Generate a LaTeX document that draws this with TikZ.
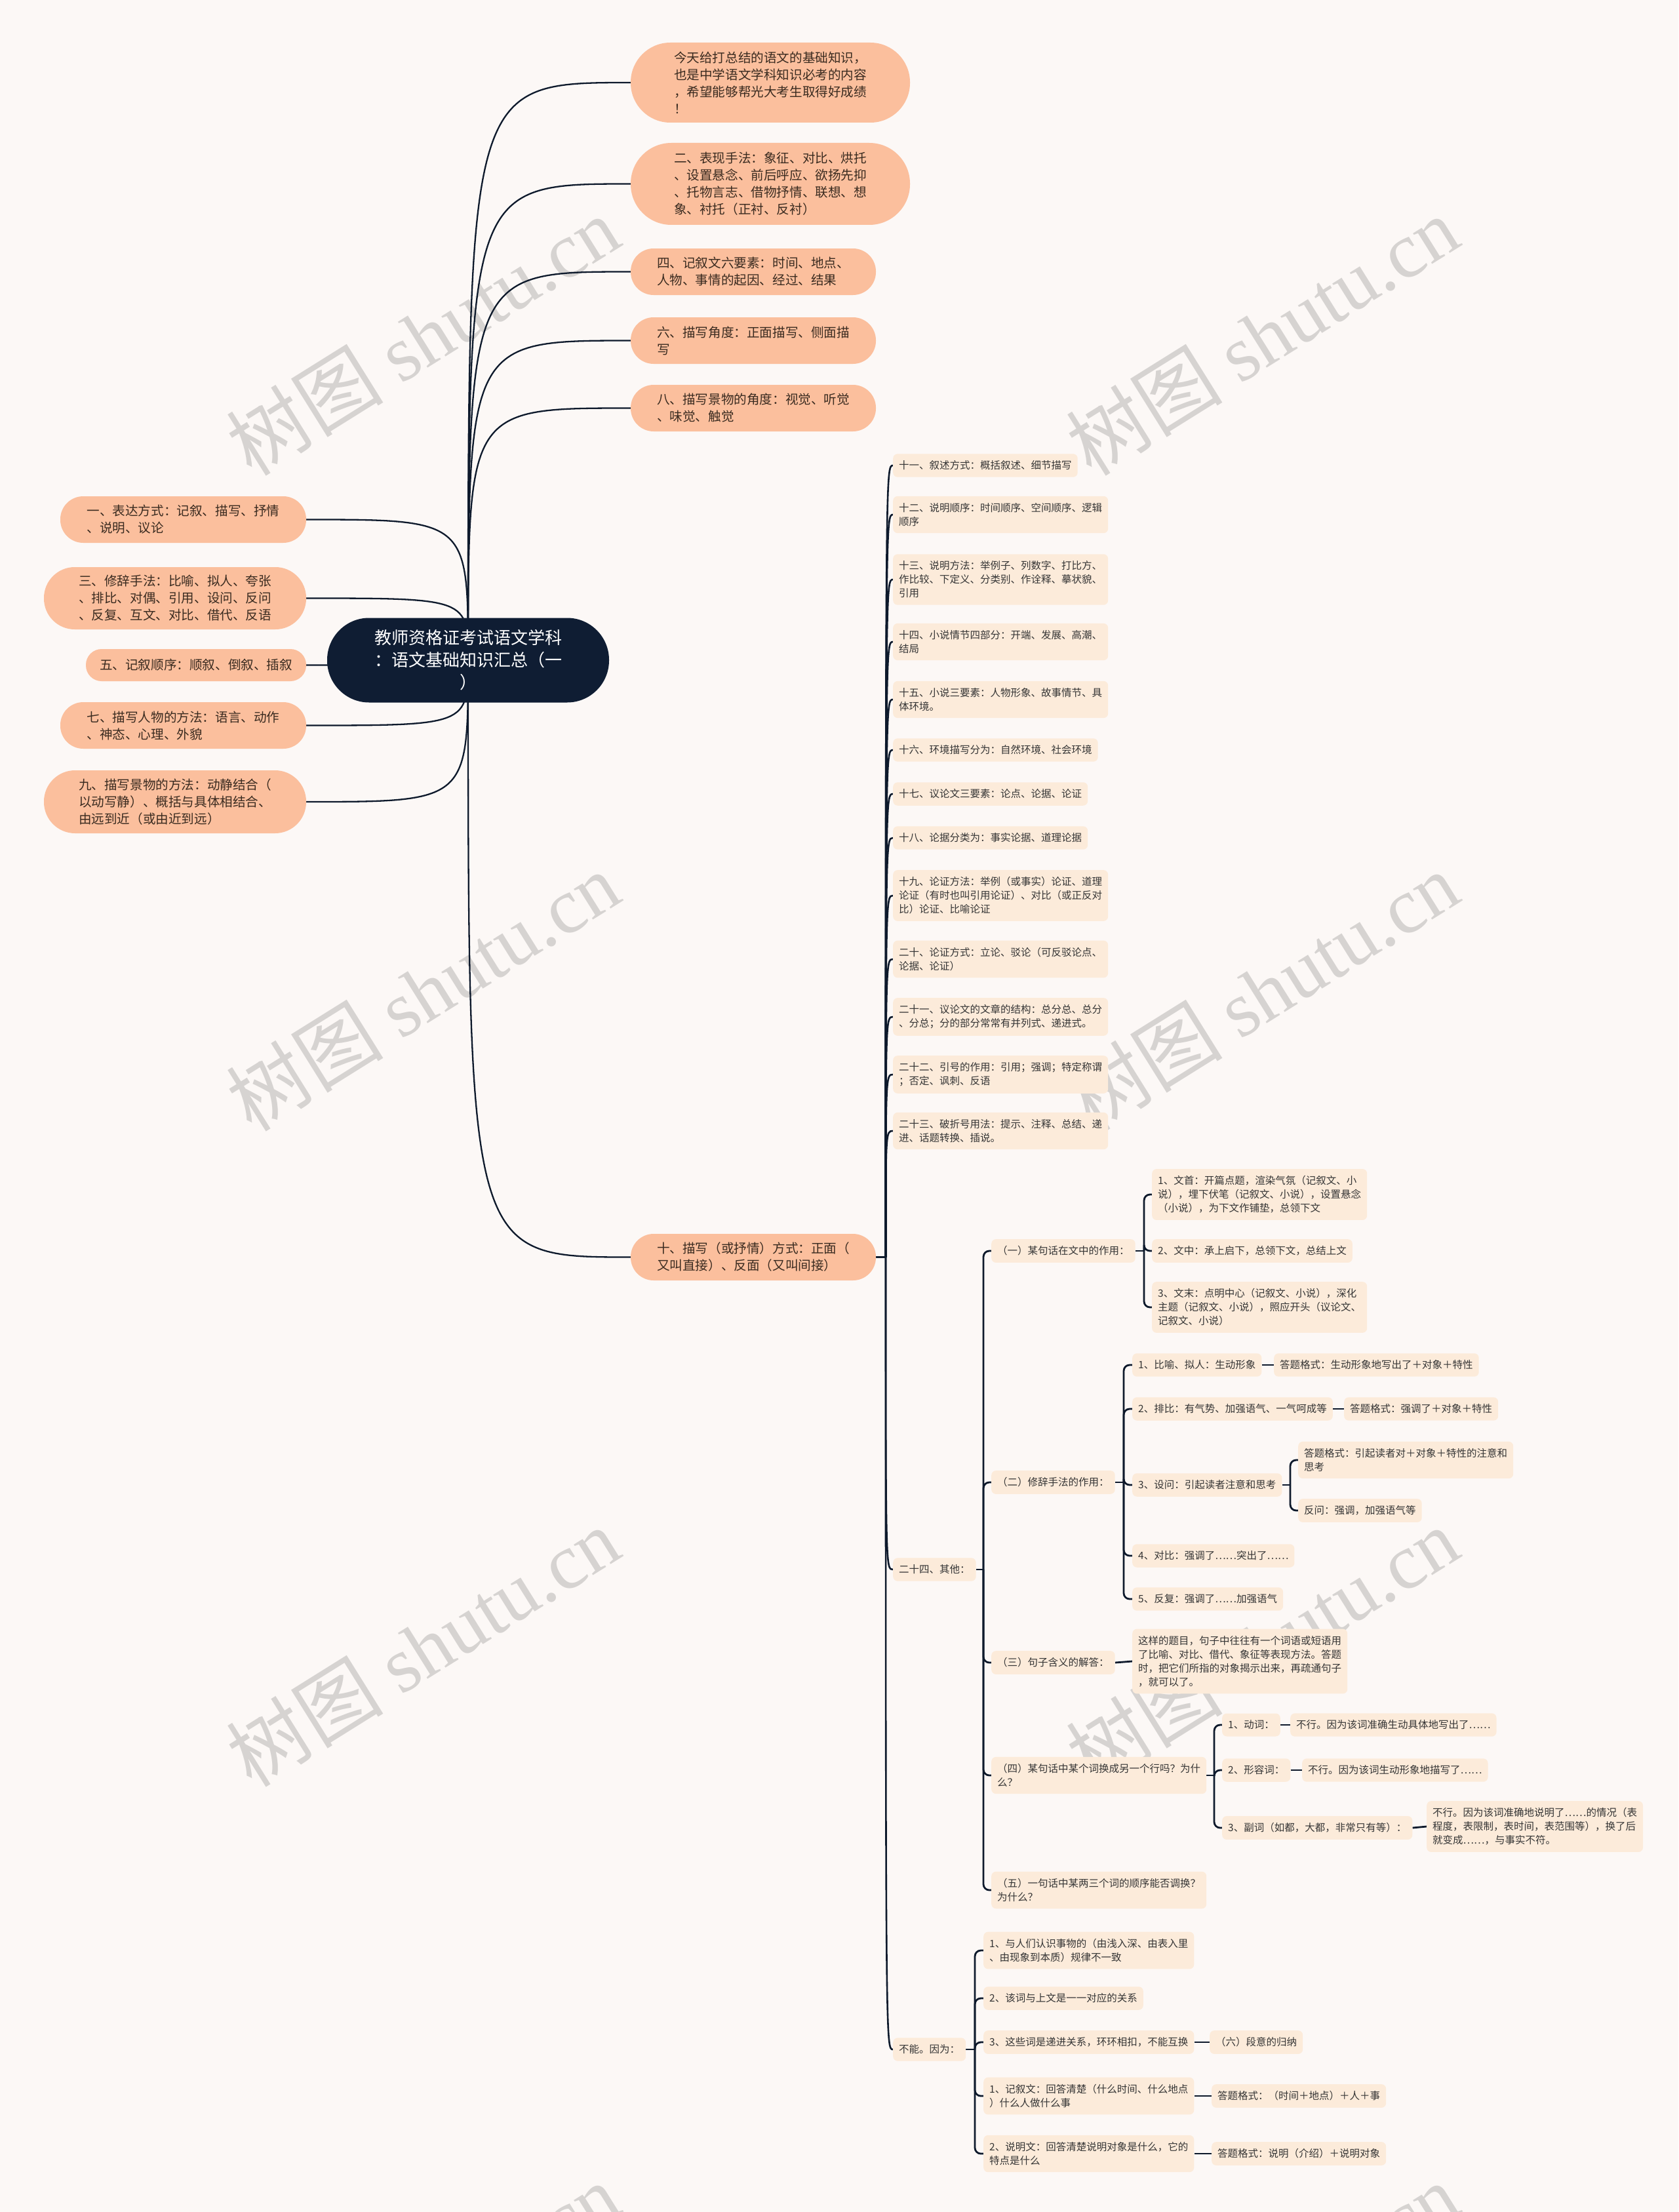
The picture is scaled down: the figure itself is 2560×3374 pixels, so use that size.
\documentclass[tikz,border=0pt]{standalone}
\usepackage{fontspec}
\setmainfont{Noto Sans CJK SC}
\newfontfamily\wmlatin{Liberation Serif}
\usetikzlibrary{calc}
\definecolor{bgc}{HTML}{FCF8F6}
\definecolor{navy}{HTML}{0F1D33}
\definecolor{salmon}{HTML}{FBBF9D}
\definecolor{peach}{HTML}{FCEBDA}
\definecolor{linec}{HTML}{0E1A2C}
\definecolor{txtA}{HTML}{3A2B20}
\definecolor{txtB}{HTML}{353535}
\definecolor{wmc}{HTML}{D6D3D1}
\pgfdeclarelayer{wm}
\pgfdeclarelayer{bg}
\pgfsetlayers{wm,bg,main}
\tikzset{
  rootnode/.style={fill=navy, text=white, rounded corners=64, minimum width=430, minimum height=129, align=center, font=\fontsize{26}{34}\selectfont, inner sep=0pt},
  pill/.style n args={3}{fill=salmon, text=txtA, align=left, font=\fontsize{19.6}{26}\selectfont, inner sep=0pt, minimum width=#1, minimum height=#2, rounded corners=#3},
  sn/.style={fill=peach, text=txtB, align=left, anchor=west, font=\fontsize{15.5}{21}\selectfont, rounded corners=7, inner xsep=9, inner ysep=10.5},
  rootline/.style={draw=linec, line width=2.3},
  l2/.style={draw=linec, line width=2.6},
  l3/.style={draw=linec, line width=2.8},
  wmark/.style={text=wmc, rotate=32, font=\fontsize{120}{120}\selectfont, inner sep=0pt},
}
\begin{document}
\begin{tikzpicture}[x=1pt,y=-1pt]
\useasboundingbox (0,0) rectangle (2560,3374);
% ---------- root ----------
\node[rootnode] (root) at (714,1007) {教师资格证考试语文学科\\：语文基础知识汇总（一\\）};
% ---------- left pills ----------
\node[pill={375}{71}{35}] (p1) at (279.5,792.5) {一、表达方式：记叙、描写、抒情\\、说明、议论};
\node[pill={400}{95}{47}] (p3) at (267,912.5) {三、修辞手法：比喻、拟人、夸张\\、排比、对偶、引用、设问、反问\\、反复、互文、对比、借代、反语};
\node[pill={336}{49}{24}] (p5) at (299,1014.5) {五、记叙顺序：顺叙、倒叙、插叙};
\node[pill={375}{71}{35}] (p7) at (279.5,1106.5) {七、描写人物的方法：语言、动作\\、神态、心理、外貌};
\node[pill={400}{96}{47.5}] (p9) at (267,1223) {九、描写景物的方法：动静结合（\\以动写静）、概括与具体相结合、\\由远到近（或由近到远）};
% ---------- right pills ----------
\node[pill={426}{122}{60.5}] (p0) at (1175,126) {今天给打总结的语文的基础知识，\\也是中学语文学科知识必考的内容\\，希望能够帮光大考生取得好成绩\\！};
\node[pill={426}{125}{62}] (p2) at (1175,280.5) {二、表现手法：象征、对比、烘托\\、设置悬念、前后呼应、欲扬先抑\\、托物言志、借物抒情、联想、想\\象、衬托（正衬、反衬）};
\node[pill={374}{71}{35}] (p4) at (1149,414.5) {四、记叙文六要素：时间、地点、\\人物、事情的起因、经过、结果};
\node[pill={374}{71}{35}] (p6) at (1149,519.5) {六、描写角度：正面描写、侧面描\\写};
\node[pill={374}{71}{35}] (p8) at (1149,622.5) {八、描写景物的角度：视觉、听觉\\、味觉、触觉};
\node[pill={374}{71}{35}] (p10) at (1149,1917.5) {十、描写（或抒情）方式：正面（\\又叫直接）、反面（又叫间接）};
% ---------- level 2 under 十 ----------
\node[sn] (s11) at (1362,710) {十一、叙述方式：概括叙述、细节描写};
\node[sn] (s12) at (1362,785) {十二、说明顺序：时间顺序、空间顺序、逻辑\\顺序};
\node[sn] (s13) at (1362,884) {十三、说明方法：举例子、列数字、打比方、\\作比较、下定义、分类别、作诠释、摹状貌、\\引用};
\node[sn] (s14) at (1362,979) {十四、小说情节四部分：开端、发展、高潮、\\结局};
\node[sn] (s15) at (1362,1067) {十五、小说三要素：人物形象、故事情节、具\\体环境。};
\node[sn] (s16) at (1362,1144) {十六、环境描写分为：自然环境、社会环境};
\node[sn] (s17) at (1362,1211) {十七、议论文三要素：论点、论据、论证};
\node[sn] (s18) at (1362,1278) {十八、论据分类为：事实论据、道理论据};
\node[sn] (s19) at (1362,1366) {十九、论证方法：举例（或事实）论证、道理\\论证（有时也叫引用论证）、对比（或正反对\\比）论证、比喻论证};
\node[sn] (s20) at (1362,1463) {二十、论证方式：立论、驳论（可反驳论点、\\论据、论证）};
\node[sn] (s21) at (1362,1551) {二十一、议论文的文章的结构：总分总、总分\\、分总；分的部分常常有并列式、递进式。};
\node[sn] (s22) at (1362,1639) {二十二、引号的作用：引用；强调；特定称谓\\；否定、讽刺、反语};
\node[sn] (s23) at (1362,1725) {二十三、破折号用法：提示、注释、总结、递\\进、话题转换、插说。};
\node[sn] (s24) at (1362,2394) {二十四、其他：};
\node[sn] (sno) at (1362,3126) {不能。因为：};
% ---------- 二十四 children ----------
\node[sn] (c1) at (1512,1908) {（一）某句话在文中的作用：};
\node[sn] (c2) at (1512,2261) {（二）修辞手法的作用：};
\node[sn] (c3) at (1512,2536) {（三）句子含义的解答：};
\node[sn] (c4) at (1512,2708) {（四）某句话中某个词换成另一个行吗？为什\\么？};
\node[sn] (c5) at (1512,2883) {（五）一句话中某两三个词的顺序能否调换？\\为什么？};
% (一)
\node[sn] (c1a) at (1757,1822) {1、文首：开篇点题，渲染气氛（记叙文、小\\说），埋下伏笔（记叙文、小说），设置悬念\\（小说），为下文作铺垫，总领下文};
\node[sn] (c1b) at (1757,1908) {2、文中：承上启下，总领下文，总结上文};
\node[sn] (c1c) at (1757,1994) {3、文末：点明中心（记叙文、小说），深化\\主题（记叙文、小说），照应开头（议论文、\\记叙文、小说）};
% (二)
\node[sn] (c2a) at (1727,2082) {1、比喻、拟人：生动形象};
\node[sn] (c2aa) at (1943,2082) {答题格式：生动形象地写出了＋对象＋特性};
\node[sn] (c2b) at (1727,2149) {2、排比：有气势、加强语气、一气呵成等};
\node[sn] (c2bb) at (2050,2149) {答题格式：强调了＋对象＋特性};
\node[sn] (c2c) at (1727,2265) {3、设问：引起读者注意和思考};
\node[sn] (c2ca) at (1980,2227) {答题格式：引起读者对＋对象＋特性的注意和\\思考};
\node[sn] (c2cb) at (1980,2304) {反问：强调，加强语气等};
\node[sn] (c2d) at (1727,2373) {4、对比：强调了……突出了……};
\node[sn] (c2e) at (1727,2439) {5、反复：强调了……加强语气};
% (三)
\node[sn] (c3a) at (1727,2534) {这样的题目，句子中往往有一个词语或短语用\\了比喻、对比、借代、象征等表现方法。答题\\时，把它们所指的对象揭示出来，再疏通句子\\，就可以了。};
% (四)
\node[sn] (c4a) at (1864,2631) {1、动词：};
\node[sn] (c4aa) at (1968,2631) {不行。因为该词准确生动具体地写出了……};
\node[sn] (c4b) at (1864,2700) {2、形容词：};
\node[sn] (c4bb) at (1986,2700) {不行。因为该词生动形象地描写了……};
\node[sn] (c4c) at (1864,2788) {3、副词（如都，大都，非常只有等）：};
\node[sn] (c4cc) at (2176,2786) {不行。因为该词准确地说明了……的情况（表\\程度，表限制，表时间，表范围等），换了后\\就变成……，与事实不符。};
% 不能
\node[sn] (n1) at (1500,2975) {1、与人们认识事物的（由浅入深、由表入里\\、由现象到本质）规律不一致};
\node[sn] (n2) at (1500,3048) {2、该词与上文是一一对应的关系};
\node[sn] (n3) at (1500,3115) {3、这些词是递进关系，环环相扣，不能互换};
\node[sn] (n3a) at (1845,3115) {（六）段意的归纳};
\node[sn] (n4) at (1500,3197) {1、记叙文：回答清楚（什么时间、什么地点\\）什么人做什么事};
\node[sn] (n4a) at (1848,3197) {答题格式：（时间＋地点）＋人＋事};
\node[sn] (n5) at (1500,3285) {2、说明文：回答清楚说明对象是什么，它的\\特点是什么};
\node[sn] (n5a) at (1848,3285) {答题格式：说明（介绍）＋说明对象};
% ---------- coordinates ----------
\coordinate (t10) at (1351,1917.5);
\coordinate (b24) at (1500,2394);
\coordinate (bc1) at (1745,1908);
\coordinate (bc2) at (1714,2261);
\coordinate (bc2c) at (1968,2265);
\coordinate (bc4) at (1852,2708);
\coordinate (bno) at (1487,3126);
% ---------- connectors ----------
\begin{pgfonlayer}{bg}
\foreach \n in {p0,p2,p4,p6,p8,p10}
  \draw[rootline] (root.center) .. controls (root.center |- \n.west) and (root.center |- \n.west) .. (\n.west);
\foreach \n in {p1,p3,p5,p7,p9}
  \draw[rootline] (root.center) .. controls (root.center |- \n.east) and (root.center |- \n.east) .. (\n.east);
\draw[l2] (p10.east) -- (t10);
\foreach \n in {s11,s12,s13,s14,s15,s16,s17,s18,s19,s20,s21,s22,s23,s24,sno}
  \draw[l2] (t10) .. controls (t10 |- \n.west) .. (\n.west);
\draw[l3] (s24.east) -- (b24);
\foreach \n in {c1,c2,c3,c4,c5}
  \draw[l3, rounded corners=9] (b24) |- (\n.west);
\draw[l3] (c1.east) -- (bc1);
\foreach \n in {c1a,c1b,c1c}
  \draw[l3, rounded corners=9] (bc1) |- (\n.west);
\draw[l3] (c2.east) -- (bc2);
\foreach \n in {c2a,c2b,c2c,c2d,c2e}
  \draw[l3, rounded corners=9] (bc2) |- (\n.west);
\draw[l3] (c2c.east) -- (bc2c);
\foreach \n in {c2ca,c2cb}
  \draw[l3, rounded corners=9] (bc2c) |- (\n.west);
\draw[l3] (c2a.east) -- (c2aa.west);
\draw[l3] (c2b.east) -- (c2bb.west);
\draw[l3] (c3.east) -- (c3a.west);
\draw[l3] (c4.east) -- (bc4);
\foreach \n in {c4a,c4b,c4c}
  \draw[l3, rounded corners=9] (bc4) |- (\n.west);
\draw[l3] (c4a.east) -- (c4aa.west);
\draw[l3] (c4b.east) -- (c4bb.west);
\draw[l3] (c4c.east) -- (c4cc.west);
\draw[l3] (sno.east) -- (bno);
\foreach \n in {n1,n2,n3,n4,n5}
  \draw[l3, rounded corners=9] (bno) |- (\n.west);
\draw[l3] (n3.east) -- (n3a.west);
\draw[l3] (n4.east) -- (n4a.west);
\draw[l3] (n5.east) -- (n5a.west);
\end{pgfonlayer}
% ---------- background & watermark ----------
\begin{pgfonlayer}{wm}
\fill[bgc] (0,0) rectangle (2560,3374);
\begin{scope}
\clip (0,0) rectangle (2560,3374);
\foreach \x/\y [count=\i] in {645/512,1925/512,645/1512,1925/1512,645/2512,1925/2512,645/3512,1925/3512}
  \node[wmark] (wm\i) at (\x,\y) {树图 {\wmlatin shutu.cn}};
\end{scope}
\end{pgfonlayer}
\end{tikzpicture}
\end{document}
